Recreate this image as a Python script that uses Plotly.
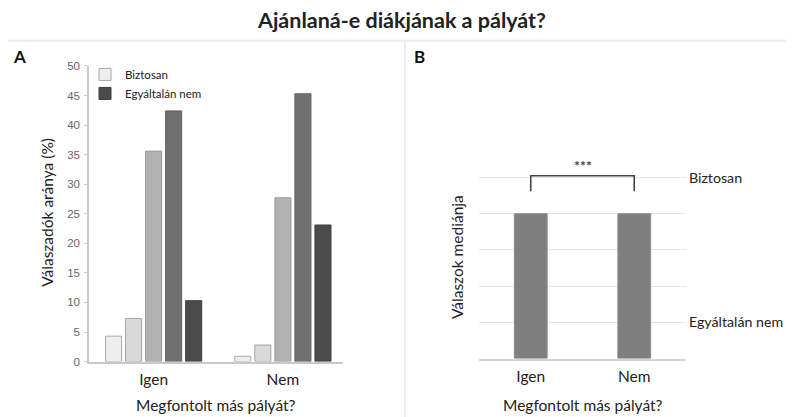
import plotly.graph_objects as go

# ---------------- data ----------------
categories = ["Igen", "Nem"]
levels = ["Biztosan", "2", "3", "4", "Egyáltalán nem"]
pct_igen = [4.3, 7.3, 35.6, 42.4, 10.3]
pct_nem = [0.9, 2.8, 27.7, 45.3, 23.1]
level_colors = ["#eeeeee", "#d9d9d9", "#b2b2b2", "#707070", "#4b4b4b"]
level_borders = ["#a8a8a8", "#a4a4a4", "#9a9a9a", "#5f5f5f", "#3e3e3e"]
legend_shown = [True, False, False, False, True]

median_values = [4, 4]
scale_ticks = [0, 1, 2, 3, 4, 5]
scale_ticktext = ["", "Egyáltalán nem", "", "", "", "Biztosan"]
bracket_x = ["Igen", "Igen", "Nem", "Nem"]
bracket_y = [4.62, 5.05, 5.05, 4.62]
sig_text = "***"

W, H = 794, 417
# map target screen pixels to paper fractions (calibrated to the rendered page)
SX, OX = 1.0, 8.0
SY, OY = 0.966, 14.3
def px(x):
    return ((x - OX) / SX) / W
def py(y):
    return 1 - ((y - OY) / SY) / H

CAL = "Lato, 'Open Sans', sans-serif"
ARIAL = "'Liberation Sans', Arial, sans-serif"

fig = go.Figure()

# Panel A bars
for i, lev in enumerate(levels):
    fig.add_trace(go.Bar(
        x=categories, y=[pct_igen[i], pct_nem[i]], name=lev,
        marker=dict(color=level_colors[i], line=dict(color=level_borders[i], width=1)),
        showlegend=legend_shown[i], xaxis="x", yaxis="y",
    ))

# Panel B bars
fig.add_trace(go.Bar(
    x=categories, y=median_values, name="Medián",
    marker=dict(color="#7f7f7f", line=dict(color="#8c8c8c", width=1)),
    showlegend=False, xaxis="x2", yaxis="y2", width=0.317,
))
fig.add_trace(go.Scatter(
    x=bracket_x, y=bracket_y, mode="lines",
    line=dict(color="#444444", width=1.6), showlegend=False,
    xaxis="x2", yaxis="y2", hoverinfo="skip",
))

fig.update_layout(
    width=W, height=H,
    margin=dict(l=0, r=0, t=0, b=0),
    paper_bgcolor="white", plot_bgcolor="white",
    barmode="group", bargap=0.225, bargroupgap=0.2,
    font=dict(family=CAL, color="#222222"),
    xaxis=dict(domain=[px(89), px(343)], range=[-0.5, 1.465], type="category",
               showline=True, linecolor="#c8c8c8", linewidth=1.5, ticks="",
               ticklabelstandoff=3,
               tickfont=dict(family=CAL, size=15.5, color="#222222"),
               showgrid=False, zeroline=False, anchor="y"),
    yaxis=dict(domain=[py(360), py(66)], range=[0, 50], dtick=5,
               showline=True, linecolor="#c8c8c8", linewidth=1.5,
               ticks="outside", ticklen=3, tickcolor="#c8c8c8",
               ticklabelstandoff=2,
               tickfont=dict(family=ARIAL, size=11.5, color="#666666"),
               showgrid=False, zeroline=False, anchor="x"),
    xaxis2=dict(domain=[px(479), px(686)], range=[-0.5, 1.5], type="category",
                showline=True, linecolor="#d4d4d4", linewidth=1.5, ticks="",
                ticklabelstandoff=3,
                tickfont=dict(family=CAL, size=15.5, color="#222222"),
                showgrid=False, zeroline=False, anchor="y2"),
    yaxis2=dict(domain=[py(357), py(155.4)], range=[0, 5.6],
                tickvals=scale_ticks, ticktext=scale_ticktext, side="right",
                showgrid=True, gridcolor="#e6e6e6", gridwidth=1.2,
                ticks="", showline=False, zeroline=False,
                ticklabelstandoff=2,
                tickfont=dict(family=CAL, size=14.2, color="#222222"),
                anchor="x2"),
    legend=dict(x=px(85), y=py(60), xanchor="left", yanchor="top",
                font=dict(family=CAL, size=11.5, color="#222222"),
                bgcolor="rgba(0,0,0,0)", tracegroupgap=2, itemwidth=30),
)

annotations = [
    dict(text="<b>Ajánlaná-e diákjának a pályát?</b>", x=px(401), y=py(20),
         xanchor="center", yanchor="middle", xref="paper", yref="paper",
         showarrow=False, font=dict(family=CAL, size=21.5, color="#222222")),
    dict(text="<b>A</b>", x=px(19), y=py(57), xanchor="center", yanchor="middle",
         xref="paper", yref="paper",
         showarrow=False, font=dict(family=CAL, size=17, color="#111111")),
    dict(text="<b>B</b>", x=px(419), y=py(57), xanchor="center", yanchor="middle",
         xref="paper", yref="paper",
         showarrow=False, font=dict(family=CAL, size=17, color="#111111")),
    dict(text="Válaszadók aránya (%)", x=px(47), y=py(212), xanchor="center", yanchor="middle",
         xref="paper", yref="paper",
         showarrow=False, textangle=-90, font=dict(family=CAL, size=15.5, color="#222222")),
    dict(text="Megfontolt más pályát?", x=px(216), y=py(403), xanchor="center", yanchor="middle",
         xref="paper", yref="paper",
         showarrow=False, font=dict(family=CAL, size=15.5, color="#222222")),
    dict(text="Válaszok mediánja", x=px(457), y=py(256), xanchor="center", yanchor="middle",
         xref="paper", yref="paper",
         showarrow=False, textangle=-90, font=dict(family=CAL, size=15.5, color="#222222")),
    dict(text="Megfontolt más pályát?", x=px(583), y=py(403), xanchor="center", yanchor="middle",
         xref="paper", yref="paper",
         showarrow=False, font=dict(family=CAL, size=15.5, color="#222222")),
    dict(text="<b>" + sig_text + "</b>", x=0.5, y=5.05, xref="x2", yref="y2", yanchor="bottom",
         showarrow=False, font=dict(family=CAL, size=14, color="#444444")),
]
fig.update_layout(annotations=annotations)

shapes = [
    dict(type="line", xref="paper", yref="paper", x0=px(5), x1=1, y0=py(41), y1=py(41),
         line=dict(color="#ececec", width=2)),
    dict(type="line", xref="paper", yref="paper", x0=px(5), x1=px(5), y0=py(41), y1=0,
         line=dict(color="#ececec", width=2)),
    dict(type="line", xref="paper", yref="paper", x0=px(405), x1=px(405), y0=py(41), y1=0,
         line=dict(color="#ececec", width=2)),
]
fig.update_layout(shapes=shapes)

fig.write_html("out.html")
